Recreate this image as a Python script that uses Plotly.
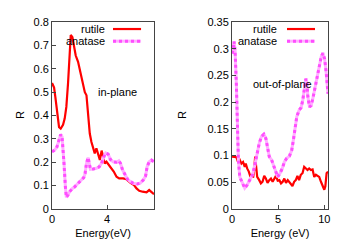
import plotly.graph_objects as go

# In-plane (left panel)
ip_rutile_E = [0, 0.15, 0.24, 0.36, 0.51, 0.63, 0.8, 0.92, 1.04, 1.16, 1.28, 1.36, 1.48, 1.58, 1.72, 1.89,
               2.06, 2.25, 2.38, 2.5, 2.62, 2.74, 2.86, 2.98, 3.1, 3.22, 3.35, 3.47, 3.6, 3.7, 3.83, 3.95,
               4.15, 4.3, 4.48, 4.68, 4.87, 5.16, 5.4, 5.7, 5.95, 6.13, 6.33, 6.57, 6.86, 7.05, 7.22, 7.4]
ip_rutile_R = [0.539, 0.52, 0.48, 0.41, 0.35, 0.344, 0.36, 0.387, 0.437, 0.536, 0.68, 0.745, 0.735, 0.70, 0.657, 0.63,
               0.586, 0.53, 0.50, 0.487, 0.41, 0.323, 0.287, 0.266, 0.238, 0.26, 0.23, 0.21, 0.25, 0.223, 0.195, 0.202,
               0.188, 0.174, 0.16, 0.138, 0.131, 0.131, 0.127, 0.112, 0.102, 0.088, 0.078, 0.074, 0.071, 0.081, 0.07, 0.063]

ip_anatase_E = [0, 0.19, 0.36, 0.51, 0.63, 0.73, 0.8, 0.87, 0.97, 1.04, 1.16, 1.28, 1.48, 1.65, 1.89, 2.13,
                2.3, 2.4, 2.5, 2.62, 2.69, 2.79, 2.98, 3.22, 3.42, 3.59, 3.76, 3.9, 4.07, 4.24, 4.44, 4.68,
                4.85, 4.97, 5.12, 5.29, 5.48, 5.7, 5.9, 6.18, 6.38, 6.62, 6.79, 6.9, 7.05, 7.22, 7.39]
ip_anatase_R = [0.245, 0.252, 0.266, 0.295, 0.319, 0.309, 0.266, 0.195, 0.095, 0.05, 0.06, 0.074, 0.088, 0.095, 0.11, 0.124,
                0.134, 0.152, 0.195, 0.22, 0.195, 0.17, 0.171, 0.174, 0.18, 0.195, 0.223, 0.24, 0.235, 0.212, 0.202, 0.2,
                0.206, 0.195, 0.167, 0.145, 0.127, 0.117, 0.11, 0.107, 0.11, 0.124, 0.141, 0.181, 0.202, 0.209, 0.202]

# Out-of-plane (right panel)
op_rutile_E = [0, 0.29, 0.47, 0.65, 0.84, 1.02, 1.2, 1.38, 1.49, 1.64, 1.82, 2.0, 2.15, 2.29, 2.4, 2.51, 2.58,
               2.73, 2.95, 3.13, 3.31, 3.49, 3.67, 3.85, 4.04, 4.22, 4.4, 4.58, 4.76, 4.95, 5.13, 5.31, 5.49,
               5.67, 5.85, 6.04, 6.18, 6.36, 6.55, 6.73, 6.91, 7.09, 7.27, 7.45, 7.64, 7.82, 8.0, 8.18, 8.36,
               8.55, 8.73, 8.91, 9.09, 9.27, 9.45, 9.64, 9.82, 10.0, 10.11, 10.25, 10.4]
op_rutile_R = [0.098, 0.098, 0.097, 0.088, 0.092, 0.085, 0.088, 0.079, 0.085, 0.076, 0.07, 0.06, 0.064, 0.059, 0.073, 0.098, 0.079,
               0.06, 0.054, 0.048, 0.051, 0.062, 0.057, 0.049, 0.054, 0.057, 0.051, 0.057, 0.062, 0.053, 0.054, 0.048, 0.051,
               0.057, 0.049, 0.054, 0.051, 0.045, 0.043, 0.051, 0.054, 0.062, 0.054, 0.064, 0.067, 0.079, 0.076, 0.073, 0.076,
               0.073, 0.074, 0.06, 0.064, 0.062, 0.06, 0.051, 0.042, 0.036, 0.042, 0.067, 0.07]

op_anatase_E = [0, 0.11, 0.22, 0.33, 0.47, 0.58, 0.69, 0.84, 1.02, 1.2, 1.38, 1.64, 1.93, 2.22, 2.47, 2.73,
                2.95, 3.2, 3.45, 3.67, 3.85, 4.04, 4.29, 4.55, 4.76, 4.95, 5.2, 5.45, 5.67, 5.93, 6.22, 6.47,
                6.65, 6.84, 7.02, 7.27, 7.49, 7.67, 7.85, 8.0, 8.11, 8.22, 8.4, 8.58, 8.76, 8.95, 9.2, 9.45,
                9.67, 9.85, 10.04, 10.22, 10.4]
op_anatase_R = [0.291, 0.297, 0.314, 0.297, 0.235, 0.154, 0.092, 0.06, 0.054, 0.045, 0.039, 0.045, 0.054, 0.064, 0.082, 0.104,
                0.123, 0.136, 0.14, 0.132, 0.116, 0.098, 0.092, 0.079, 0.067, 0.06, 0.067, 0.076, 0.088, 0.095, 0.099, 0.11,
                0.129, 0.154, 0.173, 0.185, 0.19, 0.204, 0.232, 0.244, 0.238, 0.21, 0.191, 0.194, 0.207, 0.222, 0.247, 0.266,
                0.285, 0.292, 0.281, 0.253, 0.216]

series_names = ["rutile", "anatase"]
RED = "#ff0000"
PINK_BASE = "#ffb0ff"
VIOLET = "#ff4dff"
FONT = "Liberation Sans, Arial, sans-serif"

rutile_line = dict(color=RED, width=2.2)
anatase_base = dict(color=PINK_BASE, width=3)
anatase_dash = dict(color=VIOLET, width=3, dash="3px,3px")

fig = go.Figure()
panels = [("x", "y", ip_rutile_E, ip_rutile_R, ip_anatase_E, ip_anatase_R),
          ("x2", "y2", op_rutile_E, op_rutile_R, op_anatase_E, op_anatase_R)]
for xa, ya, rE, rR, aE, aR in panels:
    fig.add_trace(go.Scatter(x=rE, y=rR, mode="lines", line=rutile_line, xaxis=xa, yaxis=ya,
                             name=series_names[0], showlegend=False))
    fig.add_trace(go.Scatter(x=aE, y=aR, mode="lines", line=anatase_base, xaxis=xa, yaxis=ya,
                             showlegend=False, hoverinfo="skip"))
    fig.add_trace(go.Scatter(x=aE, y=aR, mode="lines", line=anatase_dash, xaxis=xa, yaxis=ya,
                             name=series_names[1], showlegend=False))

ax_common = dict(showline=True, linecolor="#444", linewidth=1, mirror=True, ticks="inside", ticklen=4,
                 tickcolor="#444", showgrid=False, zeroline=False, automargin=False,
                 tickfont=dict(size=11, color="black", family=FONT))

fig.update_layout(
    width=347, height=243, margin=dict(l=0, r=0, t=0, b=0, autoexpand=False),
    paper_bgcolor="white", plot_bgcolor="white",
    font=dict(family=FONT, size=11, color="black"),
    xaxis=dict(domain=[0.1499, 0.4438], range=[0, 7.4], tickvals=[0, 4],
               title=dict(text="Energy(eV)", font=dict(size=11), standoff=5), anchor="y", **ax_common),
    yaxis=dict(domain=[0.140, 0.909], range=[0, 0.8], dtick=0.1, tickformat=".1~f",
               anchor="x", **ax_common),
    xaxis2=dict(domain=[0.6686, 0.9452], range=[0, 10.4], tickvals=[0, 5, 10],
                title=dict(text="Energy (eV)", font=dict(size=11), standoff=5), anchor="y2", **ax_common),
    yaxis2=dict(domain=[0.140, 0.909], range=[0, 0.35], dtick=0.05, tickformat=".2~f",
                anchor="x2", **ax_common),
)

# y-axis titles
for xp in [12 / 347, 182 / 347]:
    fig.add_annotation(x=xp, y=1 - 115 / 243, xref="paper", yref="paper", text="R", showarrow=False,
                       textangle=-90, font=dict(size=11))

# key boxes (legend) drawn like gnuplot: text right-aligned, sample on the right
legend_pos = {
    ("x", "y"): dict(tx=0.539, l0=0.598, l1=0.873),
    ("x2", "y2"): dict(tx=0.49, l0=0.573, l1=0.865),
}
sample_styles = [[rutile_line], [anatase_base, anatase_dash]]
for (xa, ya), p in legend_pos.items():
    for i, name in enumerate(series_names):
        yy = [0.963, 0.898][i]
        fig.add_annotation(x=p["tx"], y=yy, xref=f"{xa} domain", yref=f"{ya} domain", text=name,
                           showarrow=False, xanchor="right", yanchor="middle", font=dict(size=11))
        for st in sample_styles[i]:
            fig.add_shape(type="line", x0=p["l0"], x1=p["l1"], y0=yy, y1=yy,
                          xref=f"{xa} domain", yref=f"{ya} domain", line=st)

fig.add_annotation(x=0.647, y=0.626, xref="x domain", yref="y domain", text="in-plane", showarrow=False,
                   font=dict(size=11))
fig.add_annotation(x=0.531, y=0.711, xref="x2 domain", yref="y2 domain", text="out-of-plane", showarrow=False,
                   font=dict(size=11))

fig.write_html("out.html", config={"displayModeBar": False},
               post_script="document.body.style.margin='0';document.body.style.overflow='hidden';")
